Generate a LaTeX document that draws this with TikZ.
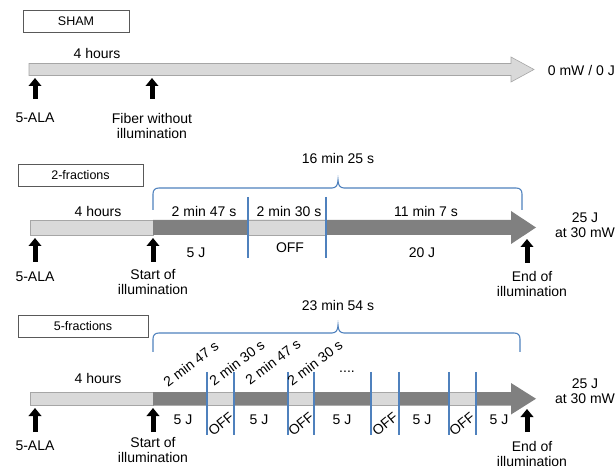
\documentclass[tikz,border=0pt]{standalone}
\usepackage{fontspec}
\setmainfont{Liberation Sans}
\usetikzlibrary{arrows.meta}
\definecolor{barlight}{HTML}{D9D9D9}
\definecolor{barline}{HTML}{A6A6A6}
\definecolor{bardark}{HTML}{808080}
\definecolor{fracblue}{HTML}{4F81BD}

\begin{document}
\begin{tikzpicture}[>=Latex, x=1pt, y=-1pt,
	txt/.style={font=\fontsize{14}{15.5}\selectfont, inner sep=1pt},
	lbl/.style={txt, anchor=north, align=center},
	groupbox/.style={draw=black!65, line width=0.7pt, minimum width=#1, minimum height=22pt, font=\fontsize{12.5}{14}\selectfont},
	lightbar/.style={fill=barlight, draw=barline, line width=0.6pt},
	cut/.style={draw=fracblue, line width=1.1pt},
	uparr/.style={line width=5pt, -{Triangle[width=12.5pt,length=8pt]}, shorten <=#1},
	uparr/.default=8pt]
	\useasboundingbox (0,0) rectangle (616,470);
	% sham
	\node[groupbox=106pt] (sham) at (76,21) {SHAM};
	\draw[lightbar] (29,63.5) -- (511,63.5) -- (511,57) -- (534,69.5) -- (511,82) -- (511,75.5) -- (29,75.5) -- cycle;
	\node[txt] (hrsA) at (97,53) {4 hours};
	\node[txt, anchor=east] (powA) at (616,70) {0 mW / 0 J};
	\node[lbl] (alaA) at (35,112) {5-ALA};
	\node[lbl] (fibA) at (152,112) {Fiber without\\illumination};
	\coordinate (alaAtip) at (35,78);
	\coordinate (fibAtip) at (152,78);
	\draw[uparr=13pt] (alaA.north) -- (alaAtip);
	\draw[uparr=13pt] (fibA.north) -- (fibAtip);
	% 2 fractions
	\node[groupbox=125pt] (frac2) at (80.5,175) {2-fractions};
	\draw[cut] (153,210) -- (153,194) .. controls (153,190) and (155,188) .. (159,188) -- (332,188) .. controls (336,188) and (338,185) .. (338,180) .. controls (338,185) and (340,188) .. (344,188) -- (516,188) .. controls (520,188) and (522,190) .. (522,194) -- (522,210);
	\node[txt] (totB) at (338,158) {16 min 25 s};
	\draw[lightbar] (30,220) rectangle (153,235);
	\fill[bardark] (153,220) -- (511,220) -- (511,211) -- (536,227.5) -- (511,244) -- (511,235) -- (153,235) -- cycle;
	\draw[lightbar] (248,220) rectangle (326,235);
	\draw[cut] (248,197) -- (248,258);
	\draw[cut] (326,197) -- (326,258);
	\node[txt] (hrsB) at (98,211) {4 hours};
	\node[txt] (onB1) at (204,211) {2 min 47 s};
	\node[txt] (offB) at (289,211) {2 min 30 s};
	\node[txt] (onB2) at (426,211) {11 min 7 s};
	\node[txt] (jB1) at (196,253) {5 J};
	\node[txt] (offtB) at (290,248) {OFF};
	\node[txt] (jB2) at (422,253) {20 J};
	\node[txt, align=center] (powB) at (585,225) {25 J\\at 30 mW};
	\node[lbl] (alaB) at (35,271) {5-ALA};
	\node[lbl] (startB) at (153,268) {Start of\\illumination};
	\node[lbl] (endB) at (532,270) {End of\\illumination};
	\coordinate (alaBtip) at (35,238);
	\coordinate (startBtip) at (153,238);
	\coordinate (endBtip) at (527,239);
	\draw[uparr=9pt] (alaB.north) -- (alaBtip);
	\draw[uparr=6pt] (startB.north) -- (startBtip);
	\draw[uparr=7pt] ([xshift=-5pt]endB.north) -- (endBtip);
	% 5 fractions
	\node[groupbox=130pt] (frac5) at (83,326) {5-fractions};
	\draw[cut] (153,352) -- (153,339) .. controls (153,335) and (155,333) .. (159,333) -- (332,333) .. controls (336,333) and (338,330) .. (338,325) .. controls (338,330) and (340,333) .. (344,333) -- (514,333) .. controls (518,333) and (520,335) .. (520,339) -- (520,352);
	\node[txt] (totC) at (338,305) {23 min 54 s};
	\draw[lightbar] (30,392) rectangle (153,405.5);
	\fill[bardark] (153,392) -- (511,392) -- (511,383) -- (536,398.75) -- (511,414.5) -- (511,405.5) -- (153,405.5) -- cycle;
	\foreach \a/\b in {207/234, 288/314, 371/399, 449/476} {
		\draw[lightbar] (\a,392) rectangle (\b,405.5);
		\draw[cut] (\a,372) -- (\a,435);
		\draw[cut] (\b,372) -- (\b,435);
	}
	\node[txt] (hrsC) at (98,378) {4 hours};
	\node[txt, rotate=37] (tC1) at (191,364) {2 min 47 s};
	\node[txt, rotate=37] (tC2) at (237,363) {2 min 30 s};
	\node[txt, rotate=37] (tC3) at (273,362) {2 min 47 s};
	\node[txt, rotate=37] (tC4) at (315,363) {2 min 30 s};
	\node[txt, anchor=base] (dotsC) at (347,373) {....};
	\foreach \x [count=\i] in {183,259,342,422,499}
		\node[txt] (jC\i) at (\x,420) {5 J};
	\foreach \x [count=\i] in {221,301,385,462}
		\node[txt, rotate=40] (offC\i) at (\x,424) {OFF};
	\node[txt, align=center] (powC) at (585,391) {25 J\\at 30 mW};
	\node[lbl] (alaC) at (35,440) {5-ALA};
	\node[lbl] (startC) at (153,436) {Start of\\illumination};
	\node[lbl] (endC) at (532,440) {End of\\illumination};
	\coordinate (alaCtip) at (35,408);
	\coordinate (startCtip) at (153,408);
	\coordinate (endCtip) at (527,409);
	\draw[uparr] (alaC.north) -- (alaCtip);
	\draw[uparr=4pt] (startC.north) -- (startCtip);
	\draw[uparr] ([xshift=-5pt]endC.north) -- (endCtip);
\end{tikzpicture}
\end{document}
